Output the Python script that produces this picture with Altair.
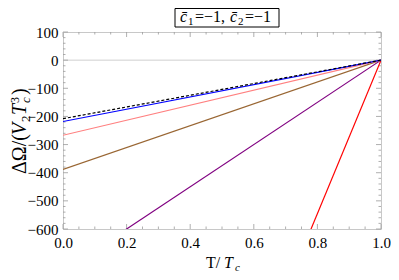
import altair as alt
import pandas as pd

# ---- data ----
series_names = ["red", "purple", "brown", "pink", "blue", "black"]
series_colors = ["#ff0000", "#800080", "#996633", "#ff8080", "#0000ff", "#000000"]
values_at_T0 = [-2727, -750, -388, -267, -218, -208]
values_at_T1 = [0, 0, 0, 0, 0, 0]
t_points = [0.0, 1.0]

x_major = [0.0, 0.2, 0.4, 0.6, 0.8, 1.0]
x_minor = [0.05, 0.1, 0.15, 0.25, 0.3, 0.35, 0.45, 0.5, 0.55, 0.65, 0.7, 0.75, 0.85, 0.9, 0.95]
y_major = [-600, -500, -400, -300, -200, -100, 0, 100]
y_minor = [v for v in range(-580, 100, 20) if v % 100 != 0]

W, H = 318, 197
FONT = "Times New Roman, Liberation Serif, serif"

rows = []
for i, name in enumerate(series_names):
    rows.append({"s": name, "order": i, "T": t_points[0], "v": values_at_T0[i]})
    rows.append({"s": name, "order": i, "T": t_points[1], "v": values_at_T1[i]})
df = pd.DataFrame(rows)

xs = alt.Scale(domain=[0, 1], nice=False, zero=False)
ys = alt.Scale(domain=[-600, 100], nice=False, zero=False)

x_axis = alt.Axis(values=x_major, format=".1f", labelPadding=6, title=None)
y_axis = alt.Axis(values=y_major, format="d", labelPadding=5, title=None)

base = alt.Chart(df)

solid = base.transform_filter(alt.datum.s != "black").mark_line(clip=True, strokeWidth=1.2).encode(
    x=alt.X("T:Q", scale=xs, axis=x_axis),
    y=alt.Y("v:Q", scale=ys, axis=y_axis),
    color=alt.Color("s:N", scale=alt.Scale(domain=series_names, range=series_colors), legend=None),
    detail="s:N",
)
dashed = base.transform_filter(alt.datum.s == "black").mark_line(
    clip=True, strokeWidth=1.2, strokeDash=[3, 2], color="black").encode(
    x=alt.X("T:Q", scale=xs, axis=x_axis), y=alt.Y("v:Q", scale=ys, axis=y_axis))

zero_df = pd.DataFrame({"v": [0]})
zero_line = alt.Chart(zero_df).mark_rule(color="#cfcfcf", strokeWidth=1).encode(
    y=alt.Y("v:Q", scale=ys, axis=y_axis), x=alt.value(0), x2=alt.value(W))

TICK = "#9a9a9a"
def xticks(vals, ln):
    d = pd.DataFrame({"t": vals})
    b = alt.Chart(d).mark_rule(color=TICK, strokeWidth=0.8)
    return (b.encode(x=alt.X("t:Q", scale=xs, axis=x_axis), y=alt.value(H), y2=alt.value(H - ln)) +
            b.encode(x=alt.X("t:Q", scale=xs, axis=x_axis), y=alt.value(0), y2=alt.value(ln)))
def yticks(vals, ln):
    d = pd.DataFrame({"t": vals})
    b = alt.Chart(d).mark_rule(color=TICK, strokeWidth=0.8)
    return (b.encode(y=alt.Y("t:Q", scale=ys, axis=y_axis), x=alt.value(0), x2=alt.value(ln)) +
            b.encode(y=alt.Y("t:Q", scale=ys, axis=y_axis), x=alt.value(W), x2=alt.value(W - ln)))

ticks = xticks(x_major, 5) + xticks(x_minor, 2.5) + yticks(y_major, 5) + yticks(y_minor, 2.5)

def txt(text, x, y, size, style="normal", angle=0, align="left"):
    return alt.Chart(pd.DataFrame({"t": [text]})).mark_text(
        font=FONT, fontSize=size, fontStyle=style, angle=angle, align=align,
        baseline="alphabetic", color="black").encode(
        text="t:N", x=alt.value(x), y=alt.value(y))

# legend box at top
box = alt.Chart(pd.DataFrame({"a": [0]})).mark_rect(
    fill="white", stroke="black", strokeWidth=1).encode(
    x=alt.value(112), x2=alt.value(216), y=alt.value(-23.5), y2=alt.value(-5))
box_text = [
    txt("c\u0304", 117, -10, 16, "italic"),
    txt("1", 125, -7, 11),
    txt("=\u22121,", 132, -10, 16),
    txt("c\u0304", 167, -10, 16, "italic"),
    txt("2", 175, -7, 11),
    txt("=\u22121", 182, -10, 16),
]

# y title (rotated), pieces along the text direction (upwards)
bx = -37
ytitle = [
    txt("\u0394\u03a9/(", bx, 142, 20, angle=270),
    txt("V", bx, 103, 20, "italic", angle=270),
    txt("2", bx + 4, 90, 13, angle=270),
    txt("T", bx, 83, 20, "italic", angle=270),
    txt("3", bx - 7, 71, 12, angle=270),
    txt("c", bx + 4, 71, 13, "italic", angle=270),
    txt(")", bx, 63, 20, angle=270),
]
# x title
xtitle = [
    txt("T/", 143, 236, 16),
    txt("T", 161, 236, 16, "italic"),
    txt("c", 172, 239, 11, "italic"),
]

layers = [zero_line, ticks, solid, dashed, box] + box_text + ytitle + xtitle
chart = alt.layer(*layers).properties(
    width=W, height=H, background="white",
    autosize=alt.AutoSizeParams(type="none"),
    padding={"left": 55, "top": 24, "right": 10, "bottom": 43},
).configure_view(stroke="#c8c8c8", strokeWidth=1).configure_axis(
    ticks=False, domain=False, grid=False, labelFont=FONT, labelFontSize=15,
    labelColor="black", labelFlush=False, labelOverlap=False,
)

chart.save("out.html", embed_options={"renderer": "svg", "actions": False})
